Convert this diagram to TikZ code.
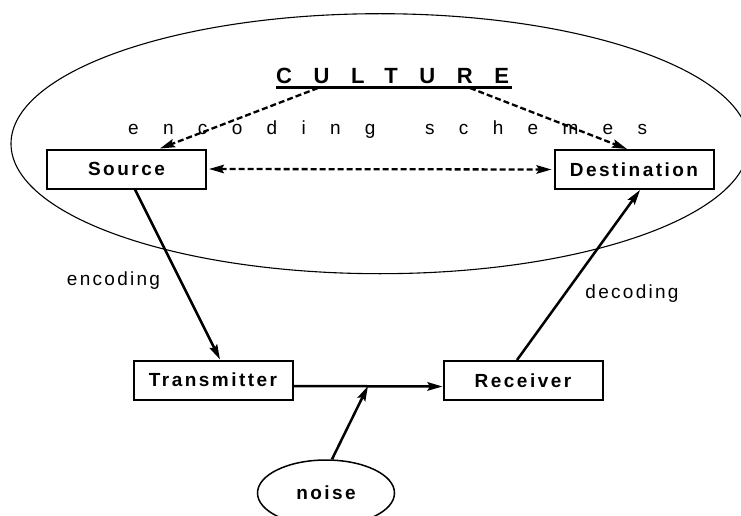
\documentclass[tikz,border=0pt]{standalone}
\usepackage{fontspec}
\setmainfont{Liberation Sans}
\usetikzlibrary{shapes.geometric,arrows.meta}
\tikzset{
  box/.style={draw, line width=2pt, minimum width=159pt, minimum height=39pt, inner sep=0pt,
    font=\fontsize{19}{22}\selectfont\bfseries\addfontfeature{LetterSpace=13}},
  lbl/.style={inner sep=0pt, font=\fontsize{19}{22}\selectfont\addfontfeature{LetterSpace=12}},
  tip/.style={-{Stealth[length=15pt,width=8.5pt,inset=2.5pt]}},
  arr/.style={line width=2.5pt, tip},
  darr/.style={line width=2.3pt, dash pattern=on 6pt off 3pt},
}
\begin{document}
\begin{tikzpicture}[x=1pt,y=-1pt]
\useasboundingbox (0,0) rectangle (741,516);
% culture ellipse
\node[draw, ellipse, line width=1.1pt, minimum width=738pt, minimum height=260pt, inner sep=0pt] (culturering) at (380,143.7) {};
% culture title
\node[anchor=base west, inner sep=0pt, font=\fontsize{22}{25}\selectfont\bfseries\addfontfeature{LetterSpace=98}] (culture) at (276,83.5) {CULTURE};
\coordinate (ulL) at (276,88);
\coordinate (ulR) at (512,88);
\draw[line width=3pt] (ulL) -- (ulR);
\coordinate (cL) at (318,88);
\coordinate (cR) at (470,88);
% encoding schemes
\node[anchor=base west, inner sep=0pt, font=\fontsize{19}{22}\selectfont\addfontfeature{LetterSpace=128}] (schemes) at (128,135) {encoding \hspace{20pt}schemes};
% boxes
\node[box] (src) at (126.5,169) {Source};
\node[box] (dst) at (634,169.5) {Destination};
\node[box] (tx) at (213,380) {Transmitter};
\node[box] (rx) at (523,380.5) {Receiver};
% noise
\node[draw, ellipse, line width=1.5pt, minimum width=137pt, minimum height=66pt, inner sep=0pt,
  font=\fontsize{19}{22}\selectfont\bfseries\addfontfeature{LetterSpace=13}] (noise) at (326,493) {noise};
% labels
\node[lbl] (enc) at (113.5,281) {encoding};
\node[lbl] (dec) at (632,294) {decoding};
% connectors
\draw[darr, tip] (cL) -- ([xshift=33.5pt]src.north);
\draw[darr, tip] (cR) -- ([xshift=-7pt]dst.north);
\draw[darr, {Stealth[length=15pt,width=8.5pt,inset=2.5pt]}-{Stealth[length=15pt,width=8.5pt,inset=2.5pt]}, shorten <=2pt, shorten >=2pt] (src.east) -- (dst.west);
\draw[arr] ([xshift=8.5pt]src.south) -- ([xshift=7pt]tx.north);
\draw[arr] ([xshift=-6pt]rx.north) -- ([xshift=6pt]dst.south);
\draw[arr] ([yshift=-6pt]tx.east) -- ([yshift=-6pt]rx.west);
\coordinate (hit) at (368,386);
\draw[arr] ([xshift=6pt]noise.north) -- (hit);
\end{tikzpicture}
\end{document}
